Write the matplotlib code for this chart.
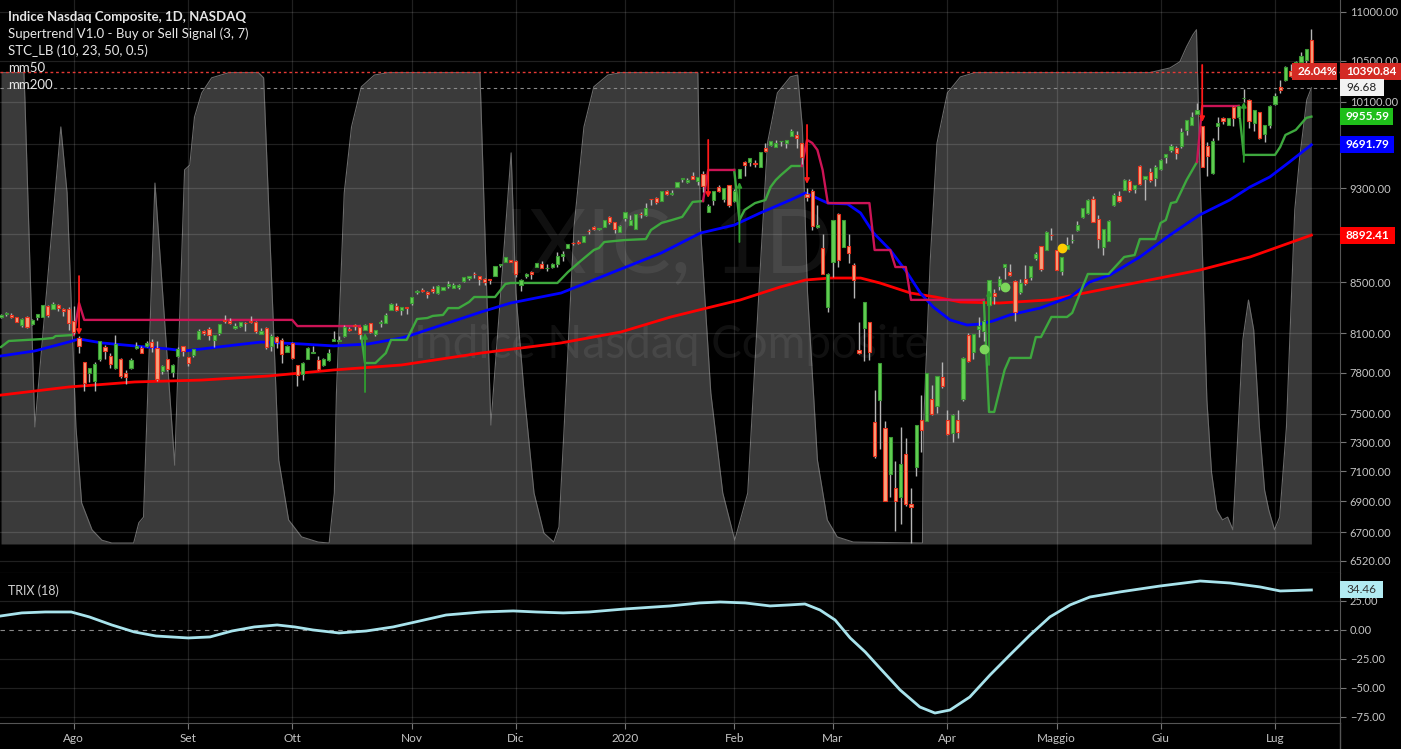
import numpy as np
import matplotlib.pyplot as plt
from matplotlib.patches import Rectangle
from matplotlib.lines import Line2D

plt.rcParams['font.family'] = ['Lato', 'DejaVu Sans']

# Indice Nasdaq Composite, daily candles 12 Jul 2019 -> 13 Jul 2020 (x = trading day index)
opens = [
    8225, 8250, 8242, 8222, 8160, 8227, 8170, 8226, 8222, 8315, 8290, 8322, 8290, 8290,
    8190, 8063, 7880, 7794, 7740, 7905, 7994, 7927, 7837, 7903, 7800, 7832, 7985, 7988, 8004, 8034, 7986, 7813, 7903, 7802, 7927, 8001,
    7915, 7932, 8055, 8118, 8130, 8050, 8104, 8199, 8196, 8141, 8153, 8181, 8197, 8184, 8092, 8138, 7997, 8071, 8047, 7958,
    8024, 7856, 7788, 7905, 7951, 7897, 7860, 7898, 8039, 8037, 8077, 8129, 8164, 8146, 8124, 8178, 8093, 8176, 8180, 8283, 8313, 8280, 8306,
    8339, 8424, 8440, 8427, 8445, 8418, 8439, 8469, 8457, 8467, 8513, 8540, 8571, 8550, 8526, 8530, 8553, 8640, 8668, 8685,
    8679, 8480, 8551, 8587, 8626, 8651, 8616, 8630, 8647, 8719, 8782, 8826, 8837, 8830, 8929, 8961, 8944, 8964, 9050, 9004, 8918,
    9039, 8977, 8943, 9076, 9068, 9205, 9213, 9188, 9270, 9245, 9306, 9381, 9350, 9410, 9362, 9429, 9092, 9191, 9311, 9205, 9324,
    9182, 9391, 9535, 9538, 9527, 9489, 9665, 9689, 9676, 9725, 9711, 9777, 9783, 9707, 9250, 9278, 8965, 8783, 8304,
    8667, 9077, 8790, 8800, 8640, 7970, 8138, 8182, 7440, 7600, 7400, 7082, 6990, 6930, 7221, 6880, 7126, 7458, 7447, 7609, 7555, 7765,
    7459, 7365, 7459, 7603, 8085, 7953, 8129, 8114, 8319, 8415, 8468, 8623, 8582, 8510, 8420, 8526, 8546, 8700, 8802, 8765, 8893,
    8769, 8594, 8774, 8854, 8932, 9047, 9082, 9208, 9026, 8794, 8844, 9155, 9233, 9283, 9365, 9296, 9502, 9383, 9444, 9392,
    9471, 9578, 9644, 9658, 9685, 9826, 9880, 9978, 9870, 9685, 9435, 9870, 9942, 9881, 10046, 9955, 10131, 10112, 9899, 10000, 9794, 9872,
    10077, 10242, 10310, 10400, 10382, 10490, 10511, 10708,
]
highs = [
    8245, 8267, 8254, 8226, 8217, 8232, 8208, 8252, 8322, 8318, 8340, 8325, 8299, 8306,
    8313, 8074, 7881, 7838, 7882, 8040, 8008, 7944, 8083, 7907, 7818, 7913, 8031, 8001, 8036, 8052, 8040, 7857, 7903, 7865, 7991, 8003,
    7916, 7977, 8134, 8127, 8145, 8087, 8172, 8244, 8214, 8174, 8186, 8188, 8233, 8193, 8136, 8145, 8090, 8074, 8061, 8008,
    8028, 7857, 7880, 7990, 8001, 7924, 7909, 7980, 8119, 8074, 8159, 8148, 8168, 8148, 8168, 8181, 8120, 8199, 8256, 8338, 8338, 8306, 8306,
    8386, 8437, 8458, 8431, 8468, 8476, 8467, 8512, 8499, 8487, 8541, 8555, 8583, 8556, 8534, 8532, 8633, 8653, 8705, 8688,
    8681, 8525, 8580, 8590, 8662, 8672, 8653, 8656, 8747, 8755, 8819, 8838, 8855, 8888, 8946, 8966, 8954, 9023, 9053, 9007, 8976,
    9093, 9065, 9072, 9091, 9168, 9205, 9220, 9274, 9287, 9284, 9357, 9390, 9390, 9440, 9403, 9451, 9164, 9275, 9328, 9303, 9329,
    9296, 9474, 9539, 9573, 9548, 9628, 9713, 9726, 9735, 9731, 9736, 9838, 9817, 9708, 9299, 9288, 9155, 8906, 8576,
    9019, 9080, 9019, 8903, 8660, 8184, 8345, 8189, 7669, 7875, 7450, 7335, 7171, 7403, 7326, 6990, 7418, 7637, 7800, 7709, 7775, 7881,
    7526, 7500, 7530, 7914, 8102, 8092, 8227, 8204, 8516, 8450, 8555, 8650, 8651, 8521, 8529, 8645, 8635, 8753, 8803, 8929, 8953,
    8769, 8712, 8879, 8903, 9011, 9121, 9204, 9233, 9064, 8945, 9023, 9257, 9277, 9383, 9377, 9330, 9505, 9412, 9482, 9505,
    9557, 9608, 9697, 9684, 9845, 9925, 10002, 10087, 9871, 9719, 9754, 9949, 9951, 9946, 10056, 10057, 10221, 10120, 10018, 10001, 9875, 10071,
    10181, 10310, 10443, 10466, 10493, 10588, 10617, 10824,
]
lows = [
    8217, 8233, 8214, 8185, 8145, 8142, 8163, 8199, 8222, 8225, 8286, 8271, 8229, 8123,
    8094, 7950, 7662, 7727, 7662, 7885, 7899, 7835, 7825, 7758, 7716, 7827, 7979, 7947, 7990, 7953, 7741, 7792, 7815, 7771, 7920, 7923,
    7847, 7917, 8055, 8084, 8044, 7996, 8088, 8180, 8169, 8131, 8143, 8114, 8177, 8101, 8089, 7979, 7964, 7984, 7875, 7958,
    7905, 7700, 7744, 7905, 7948, 7823, 7849, 7889, 8039, 8037, 8073, 8115, 8123, 8055, 8122, 8102, 8076, 8146, 8178, 8283, 8275, 8242, 8249,
    8319, 8409, 8422, 8373, 8419, 8405, 8436, 8452, 8452, 8446, 8505, 8521, 8540, 8476, 8483, 8485, 8553, 8624, 8667, 8665,
    8546, 8435, 8540, 8531, 8625, 8618, 8597, 8615, 8624, 8679, 8780, 8805, 8818, 8830, 8905, 8933, 8935, 8964, 8987, 8911, 8915,
    9011, 8976, 8943, 9042, 9060, 9147, 9157, 9186, 9238, 9241, 9306, 9357, 9347, 9379, 9327, 9263, 9089, 9150, 9264, 9175, 9132,
    9177, 9391, 9412, 9496, 9485, 9488, 9624, 9679, 9669, 9681, 9662, 9775, 9661, 9519, 9183, 8936, 8957, 8565, 8264,
    8548, 8625, 8790, 8663, 8378, 7943, 7890, 7897, 7192, 7255, 6904, 6928, 6709, 6754, 6869, 6631, 7067, 7232, 7447, 7492, 7503, 7685,
    7353, 7300, 7332, 7594, 7878, 7902, 8068, 8042, 8313, 8331, 8438, 8527, 8553, 8194, 8408, 8481, 8523, 8681, 8593, 8765, 8849,
    8599, 8558, 8774, 8829, 8931, 9040, 9076, 9002, 8785, 8727, 8842, 9146, 9180, 9283, 9265, 9253, 9328, 9192, 9351, 9320,
    9465, 9521, 9623, 9558, 9666, 9781, 9876, 9976, 9485, 9404, 9426, 9733, 9882, 9875, 9867, 9940, 10092, 9846, 9818, 9744, 9720, 9850,
    10064, 10185, 10296, 10340, 10374, 10451, 10439, 10377,
]
closes = [
    8244, 8258, 8222, 8185, 8207, 8146, 8204, 8251, 8321, 8238, 8330, 8293, 8273, 8175,
    8111, 8004, 7726, 7833, 7862, 8039, 7959, 7863, 8016, 7774, 7767, 7896, 8003, 7949, 8020, 7991, 7752, 7853, 7827, 7857, 7974, 7963,
    7874, 7977, 8117, 8103, 8087, 8084, 8169, 8195, 8177, 8153, 8186, 8177, 8182, 8118, 8112, 7993, 8077, 8031, 7940, 7999,
    7909, 7786, 7872, 7982, 7956, 7824, 7903, 7951, 8057, 8048, 8149, 8124, 8156, 8090, 8163, 8105, 8120, 8186, 8243, 8325, 8276, 8303, 8292,
    8386, 8434, 8435, 8410, 8434, 8475, 8464, 8486, 8482, 8479, 8541, 8550, 8570, 8527, 8506, 8520, 8632, 8648, 8705, 8665,
    8568, 8521, 8567, 8570, 8656, 8621, 8616, 8654, 8717, 8735, 8814, 8823, 8827, 8887, 8925, 8945, 8952, 9022, 9007, 8945, 8973,
    9093, 9021, 9071, 9069, 9129, 9203, 9179, 9274, 9251, 9259, 9357, 9389, 9370, 9383, 9402, 9315, 9139, 9270, 9276, 9299, 9151,
    9273, 9467, 9509, 9572, 9520, 9628, 9639, 9726, 9712, 9731, 9733, 9817, 9751, 9577, 9221, 8966, 8980, 8566, 8567,
    9019, 8684, 9019, 8738, 8520, 7950, 8344, 7952, 7201, 7875, 6905, 7335, 6900, 7151, 6880, 6861, 7418, 7385, 7798, 7502, 7774, 7700,
    7360, 7488, 7374, 7913, 7887, 8091, 8153, 8193, 8516, 8393, 8532, 8650, 8561, 8263, 8495, 8494, 8634, 8730, 8607, 8915, 8890,
    8605, 8710, 8810, 8855, 8980, 9121, 9193, 9002, 8863, 8943, 9015, 9235, 9185, 9375, 9284, 9325, 9340, 9412, 9369, 9490,
    9552, 9609, 9683, 9616, 9814, 9925, 9953, 10020, 9493, 9589, 9726, 9896, 9910, 9944, 9946, 10056, 10131, 9910, 10017, 9757, 9874, 10059,
    10155, 10208, 10433, 10344, 10492, 10548, 10617, 10391,
]

month_idx = [14, 36, 56, 79, 99, 120, 141, 160, 182, 203, 223, 245]
month_labels = ['Ago', 'Set', 'Ott', 'Nov', 'Dic', '2020', 'Feb', 'Mar', 'Apr', 'Maggio', 'Giu', 'Lug']
price_ticks = [6520, 6700, 6900, 7100, 7300, 7500, 7800, 8100, 8500, 8900, 9300, 9700, 10100, 10500, 11000]
hidden_ticks = [8900, 9700]  # covered by the last-value labels

# moving averages (day index, value)
mm50_x = [0, 6.5, 13, 15, 19.4, 25.7, 32.2, 35.3, 38.6, 45, 50, 53.4, 57.8, 64, 70.6, 77, 79, 92.3, 98, 107.7, 117.3,
          127, 134.5, 141, 146, 151.8, 154.7, 159, 162.8, 165.3, 167.8, 171, 174.3, 176.8, 179.3, 182.5, 185.8, 188.3,
          190.8, 194, 199.8, 205.6, 209.4, 213.2, 219, 224.8, 230.5, 236.3, 240.2, 244, 247.8, 252]
mm50_v = [7925, 7963, 8031, 8054, 8024, 8001, 7978, 7963, 7978, 8008, 8031, 8024, 8016, 8001, 8016, 8062, 8085, 8264, 8335,
          8415, 8577, 8743, 8910, 8978, 9082, 9195, 9257, 9168, 9160, 9082, 8910, 8767, 8577, 8415, 8303, 8202, 8162, 8170,
          8194, 8241, 8295, 8383, 8504, 8560, 8709, 8893, 9065, 9195, 9310, 9399, 9535, 9691.79]
mm200_x = [0, 13, 25.7, 38.6, 51.4, 64, 77, 92.3, 107.7, 119.2, 128.8, 136.5, 142.2, 149.9, 154.7, 159.5, 165.3, 169,
           174.9, 179.7, 184.5, 192, 201.7, 211.3, 220.9, 230.5, 240.2, 252]
mm200_v = [7635, 7694, 7731, 7745, 7775, 7820, 7857, 7947, 8024, 8108, 8225, 8303, 8360, 8464, 8520, 8536, 8536, 8496,
           8415, 8383, 8343, 8335, 8360, 8439, 8520, 8601, 8709, 8892.41]

# Supertrend V1.0 (3, 7): up-trend and down-trend segments as (day, level)
st_up = [
    [(0, 7993), (1.5, 8039), (8, 8054), (10, 8062), (10.5, 8077), (14, 8085)],
    [(69, 8154), (70, 7872), (72, 7872), (74, 7947), (75, 8047), (78, 8047), (80, 8209), (82, 8217), (83, 8233), (85, 8241),
     (86, 8295), (88, 8295), (90, 8343), (91, 8383), (95, 8383), (97, 8488), (98, 8496), (107, 8496), (109, 8584), (111, 8659),
     (114, 8767), (115, 8784), (116, 8834), (120, 8851), (124, 8859), (125, 8936), (127, 8996), (129, 9021), (131, 9048),
     (133, 9178), (135, 9186)],
    [(141, 9462), (142, 9021), (143, 9108), (145, 9168), (147, 9195), (148, 9310), (149, 9372), (150, 9417), (152, 9498), (154, 9498)],
    [(189, 8360), (190, 7513), (191, 7513), (193, 7820), (194, 7910), (198, 7910), (199, 8069), (200, 8069), (202, 8225),
     (205, 8225), (206, 8257), (209, 8569), (213, 8569), (216, 8709), (218, 8725), (219, 8859), (222, 8859), (223, 8996),
     (224, 9021), (225, 9168), (226, 9178), (228, 9372), (230, 9535)],
    [(238, 10057), (239, 9599), (245, 9599), (246, 9672), (247, 9783), (249, 9830), (251, 9943), (252, 9955.59)],
]
st_down = [
    [(14, 8085), (15, 8335), (16, 8202), (56, 8202), (57, 8154), (69, 8154)],
    [(135, 9186), (136, 9462), (141, 9462)],
    [(154, 9498), (155, 9737), (156, 9709), (157, 9644), (158, 9462), (159, 9168), (167, 9168), (168, 8767), (171, 8767),
     (172, 8626), (174, 8626), (175, 8360), (189, 8360)],
    [(230, 9535), (231, 10057), (238, 10057)],
]
sell_signals = [(15, 8552, 8085), (136, 9737, 9213), (155, 9877, 9337), (231, 10458, 9904)]
buy_signals = [(70, 7657, 8100), (142, 8834, 9354), (190, 7857, 8439), (239, 9535, 10096)]
green_dots = [(189, 7978), (193, 8460)]
yellow_dots = [(204, 8784)]

# STC_LB (10, 23, 50, 0.5)
stc_x = [0, 4.4, 4.6, 6.5, 11.5, 12.7, 14.4, 15.5, 17.5, 19.4, 21.3, 25.5, 26.5, 27.4, 29.6, 33.4, 35.3, 36.3, 37.2, 38.6,
         40.5, 43.8, 49.5, 50.5, 53.4, 55.3, 57.8, 61, 63.1, 64.1, 64.5, 66, 67.4, 69.3, 71.8, 74.5, 92.1, 94.2, 98.1, 99,
         100.6, 102.5, 104.4, 106.3, 107.3, 108.3, 110.2, 112.1, 114, 116.7, 119.2, 134, 134.5, 136.5, 138.8, 141.1, 143.6,
         146.1, 147.4, 149.3, 151.8, 153.2, 154.1, 155.1, 157, 158.9, 160.8, 163.9, 177.2, 177.4, 178.7, 180, 182, 184.5,
         187.3, 220.9, 224.8, 226.7, 228, 229.2, 229.9, 230.5, 231.9, 232.8, 233.8, 234.9, 235.9, 236.9, 238.8, 239.9,
         240.9, 242, 243, 243.8, 244.9, 245.9, 247.2, 248.8, 249.7, 251.1, 252]
stc_v = [99.9, 99.9, 94, 24.8, 88.4, 74.4, 24.8, 8.7, 3.0, 0.8, 0.2, 0.2, 4.5, 5.7, 76.5, 16.7, 79.3, 80.3, 90.5, 95.6,
         98.8, 99.9, 99.9, 98.8, 17.8, 5.1, 1.5, 0.4, 0.2, 10.8, 32.0, 74.4, 88.4, 96.9, 99.4, 99.9, 99.9, 25.2, 82.9, 53.2,
         32.0, 10.8, 2.3, 0.4, 3.6, 24.8, 67.2, 88.4, 96.9, 99.4, 99.9, 99.9, 67.2, 32.0, 10.8, 0.8, 10.8,
         60.2, 85.0, 95.6, 99.0, 99.4, 88.4, 53.2, 17.8, 5.1, 1.5, 0.4, 0.2, 24.8, 60.2, 85.0, 95.6, 99.0,
         99.9, 99.9, 100.9, 102.2, 105.4, 107.9, 109.0, 81.4, 30.5, 15.1, 7.2, 5.1, 5.7, 3.0, 43.2, 51.7,
         45.4, 24.8, 11.4, 7.2, 3.0, 5.7, 24.8, 70.8, 81.4, 94.1, 96.68]

# TRIX (18)
trix_x = [0, 4, 8.5, 13.5, 17, 21.3, 25.6, 29.8, 36, 40.2, 44.4, 48.7, 53.1, 56.5, 60, 65, 70.2, 75.4, 78.8, 85.6, 92.5,
          98.5, 102.9, 108.1, 113.1, 120, 128.7, 134.4, 138.3, 143.1, 147.9, 151.7, 154.6, 157.5, 160.4, 163.3, 166.2,
          169, 172.9, 176.7, 179.6, 182.5, 186.3, 190.2, 194, 197.9, 201.7, 205.6, 209.4, 215.2, 222.9, 230.6, 236.3,
          242.1, 246, 252]
trix_v = [12.1, 14.7, 15.5, 15.5, 11.2, 4.3, -1.7, -5.2, -6.9, -6.0, -0.9, 2.6, 4.3, 2.6, 0.0, -2.6, -0.9, 2.6, 6.0, 12.9,
          15.5, 16.4, 15.5, 14.7, 15.5, 18.1, 20.7, 23.3, 24.1, 23.3, 20.7, 21.6, 22.4, 17.2, 8.6, -6.9, -19.0, -32.8,
          -51.7, -66.4, -71.6, -69.0, -57.8, -38.8, -21.6, -4.3, 11.2, 21.6, 28.4, 32.8, 37.9, 42.2, 40.5, 37.1, 33.6, 34.46]

W, H = 1401, 749
fig = plt.figure(figsize=(W / 100, H / 100), dpi=100, facecolor='black')

def fx(px):
    return px / W

def fy(py):
    return 1 - py / H

main_rect = [0, fy(573), fx(1340), fy(0) - fy(573)]
stc_ax = fig.add_axes(main_rect, facecolor='black')
ax = fig.add_axes(main_rect)
ax.patch.set_visible(False)
trix_ax = fig.add_axes([0, fy(723), fx(1340), fy(573) - fy(723)], facecolor='black')

xlim = (-0.2, 257.5)
spine_c = '#555555'
label_c = '#c4c4c4'

# STC background oscillator
stc_ax.set_xlim(*xlim)
stc_ax.set_ylim(-6.15, 115.3)
stc_ax.fill_between(stc_x, 0, stc_v, color='#3a3a3a', lw=0)
stc_ax.plot(stc_x, stc_v, color='#6a6a6a', lw=0.8)
stc_ax.axhline(96.68, color='#8a8a8a', lw=0.8, ls=(0, (3, 3)))
stc_ax.set_xticks([])
stc_ax.set_yticks([])
for s in stc_ax.spines.values():
    s.set_visible(False)

# price panel
ax.set_yscale('log')
ax.set_xlim(*xlim)
ax.set_ylim(6444, 11126)
ax.set_yticks(price_ticks)
ax.set_yticklabels(['' if t in hidden_ticks else f'{t:.2f}' for t in price_ticks])
ax.minorticks_off()
ax.yaxis.tick_right()
ax.set_xticks(month_idx)
ax.tick_params(axis='x', bottom=False, labelbottom=False)
ax.tick_params(axis='y', colors='#777777', labelcolor=label_c, labelsize=8, length=4, pad=3)
ax.grid(True, color='#ffffff', alpha=0.13, lw=0.9)
ax.set_axisbelow(True)
for k in ['top', 'left']:
    ax.spines[k].set_visible(False)
ax.spines['bottom'].set_color(spine_c)
ax.spines['right'].set_color(spine_c)

# symbol watermark
ax.text(668 / 1340, 1 - 273 / 573, 'IXIC, 1D', transform=ax.transAxes, ha='center', va='baseline',
        fontsize=64, color='white', alpha=0.065, zorder=1)
ax.text(671 / 1340, 1 - 358 / 573, 'Indice Nasdaq Composite', transform=ax.transAxes, ha='center', va='baseline',
        fontsize=33, color='white', alpha=0.065, zorder=1)

x = np.arange(len(closes))
o = np.array(opens, float)
c = np.array(closes, float)
up = c >= o
ax.axhline(closes[-1], color='#e53935', lw=1, ls=(0, (2, 2)), zorder=2)
ax.plot(mm200_x, mm200_v, color='#ff0000', lw=2, zorder=3)
ax.plot(mm50_x, mm50_v, color='#0000ff', lw=2, zorder=3)
for seg in st_up:
    sx, sv = zip(*seg)
    ax.plot(sx, sv, color='#3ea83e', lw=1.7, zorder=3)
for seg in st_down:
    sx, sv = zip(*seg)
    ax.plot(sx, sv, color='#cc1456', lw=1.7, zorder=3)

ax.vlines(x, lows, highs, color='#b5b5b5', lw=1, zorder=4)
bottoms = np.minimum(o, c)
heights = np.maximum(np.abs(c - o), 1)
ax.bar(x[up], heights[up], bottom=bottoms[up], width=0.62, color='#62cf52', edgecolor='#3b9a35', lw=0.8, zorder=5)
ax.bar(x[~up], heights[~up], bottom=bottoms[~up], width=0.62, color='#f8a07a', edgecolor='#e8321e', lw=0.8, zorder=5)

for d, a, b in sell_signals:
    ax.annotate('', xy=(d, b), xytext=(d, a), zorder=6,
                arrowprops=dict(arrowstyle='-|>', color='#ff1a1a', lw=1.3, mutation_scale=7, shrinkA=0, shrinkB=0))
for d, a, b in buy_signals:
    ax.annotate('', xy=(d, b), xytext=(d, a), zorder=6,
                arrowprops=dict(arrowstyle='-|>', color='#2f9e2f', lw=1.3, mutation_scale=7, shrinkA=0, shrinkB=0))
gx, gv = zip(*green_dots)
ax.plot(gx, gv, 'o', color='#7bd65a', ms=6, zorder=6)
yx, yv = zip(*yellow_dots)
ax.plot(yx, yv, 'o', color='#ffcc00', ms=6, zorder=6)

# TRIX panel
trix_ax.set_xlim(*xlim)
trix_ax.set_ylim(-80.2, 49.1)
trix_ticks = [25, 0, -25, -50, -75]
trix_ax.set_yticks(trix_ticks)
trix_ax.set_yticklabels([f'{t:.2f}'.replace('-', '\u2212') for t in trix_ticks])
trix_ax.yaxis.tick_right()
trix_ax.tick_params(axis='y', colors='#777777', labelcolor=label_c, labelsize=8, length=4, pad=3)
trix_ax.set_xticks(month_idx)
trix_ax.set_xticklabels(month_labels)
trix_ax.tick_params(axis='x', colors='#777777', labelcolor=label_c, labelsize=8.5, length=4, pad=3)
trix_ax.grid(True, axis='x', color='#ffffff', alpha=0.13, lw=0.9)
for t in [25, -25, -50, -75]:
    trix_ax.axhline(t, color='#ffffff', alpha=0.13, lw=0.9, zorder=0.5)
trix_ax.axhline(0, color='#8a8a8a', lw=0.8, ls=(0, (4, 4)), zorder=0.6)
trix_ax.set_axisbelow(True)
trix_ax.plot(trix_x, trix_v, color='#a8e3ec', lw=2, zorder=3)
for k in ['top', 'left']:
    trix_ax.spines[k].set_visible(False)
trix_ax.spines['bottom'].set_color(spine_c)
trix_ax.spines['right'].set_color(spine_c)

fig.add_artist(Line2D([fx(1340), fx(1340)], [0, fy(723)], color=spine_c, lw=1))

# legends
legend_lines = [('Indice Nasdaq Composite, 1D, NASDAQ', 'bold'), ('Supertrend V1.0 - Buy or Sell Signal (3, 7)', 'normal'),
                ('STC_LB (10, 23, 50, 0.5)', 'normal'), ('mm50', 'normal'), ('mm200', 'normal')]
for i, (txt, wt) in enumerate(legend_lines):
    fig.text(fx(8), fy(17 + i * 17), txt, color='#e6e6e6', fontsize=9.5, fontweight=wt, va='center', ha='left')
fig.text(fx(8), fy(591), 'TRIX (18)', color='#d0d0d0', fontsize=9, va='center', ha='left')

# last-value labels on the scale
def scale_label(axis, value, text, fc, tc, width, left=1340, bold=True):
    yd = axis.transData.transform((0, value))[1] / fig.bbox.height
    fig.add_artist(Rectangle((fx(left), yd - 8.5 / H), fx(width), 17 / H, transform=fig.transFigure,
                             fc=fc, ec='none', zorder=10))
    fig.text(fx(left + 6), yd, text, color=tc, fontsize=8.5, fontweight='bold' if bold else 'normal',
             va='center', ha='left', zorder=11)

scale_label(ax, closes[-1], '10390.84', '#d32a24', 'white', 61)
scale_label(ax, closes[-1], '26.04%', '#d32a24', 'white', 45, left=1292)
scale_label(stc_ax, stc_v[-1], '96.68', '#f2f2f2', '#222222', 44, bold=False)
scale_label(ax, st_up[-1][-1][1], '9955.59', '#1fbf1a', 'white', 53)
scale_label(ax, mm50_v[-1], '9691.79', '#0000ff', 'white', 54)
scale_label(ax, mm200_v[-1], '8892.41', '#ff0000', 'white', 55)
scale_label(trix_ax, trix_v[-1], '34.46', '#b2ebf2', '#333333', 43, bold=False)

fig.savefig('out.png', dpi=100, facecolor='black')
